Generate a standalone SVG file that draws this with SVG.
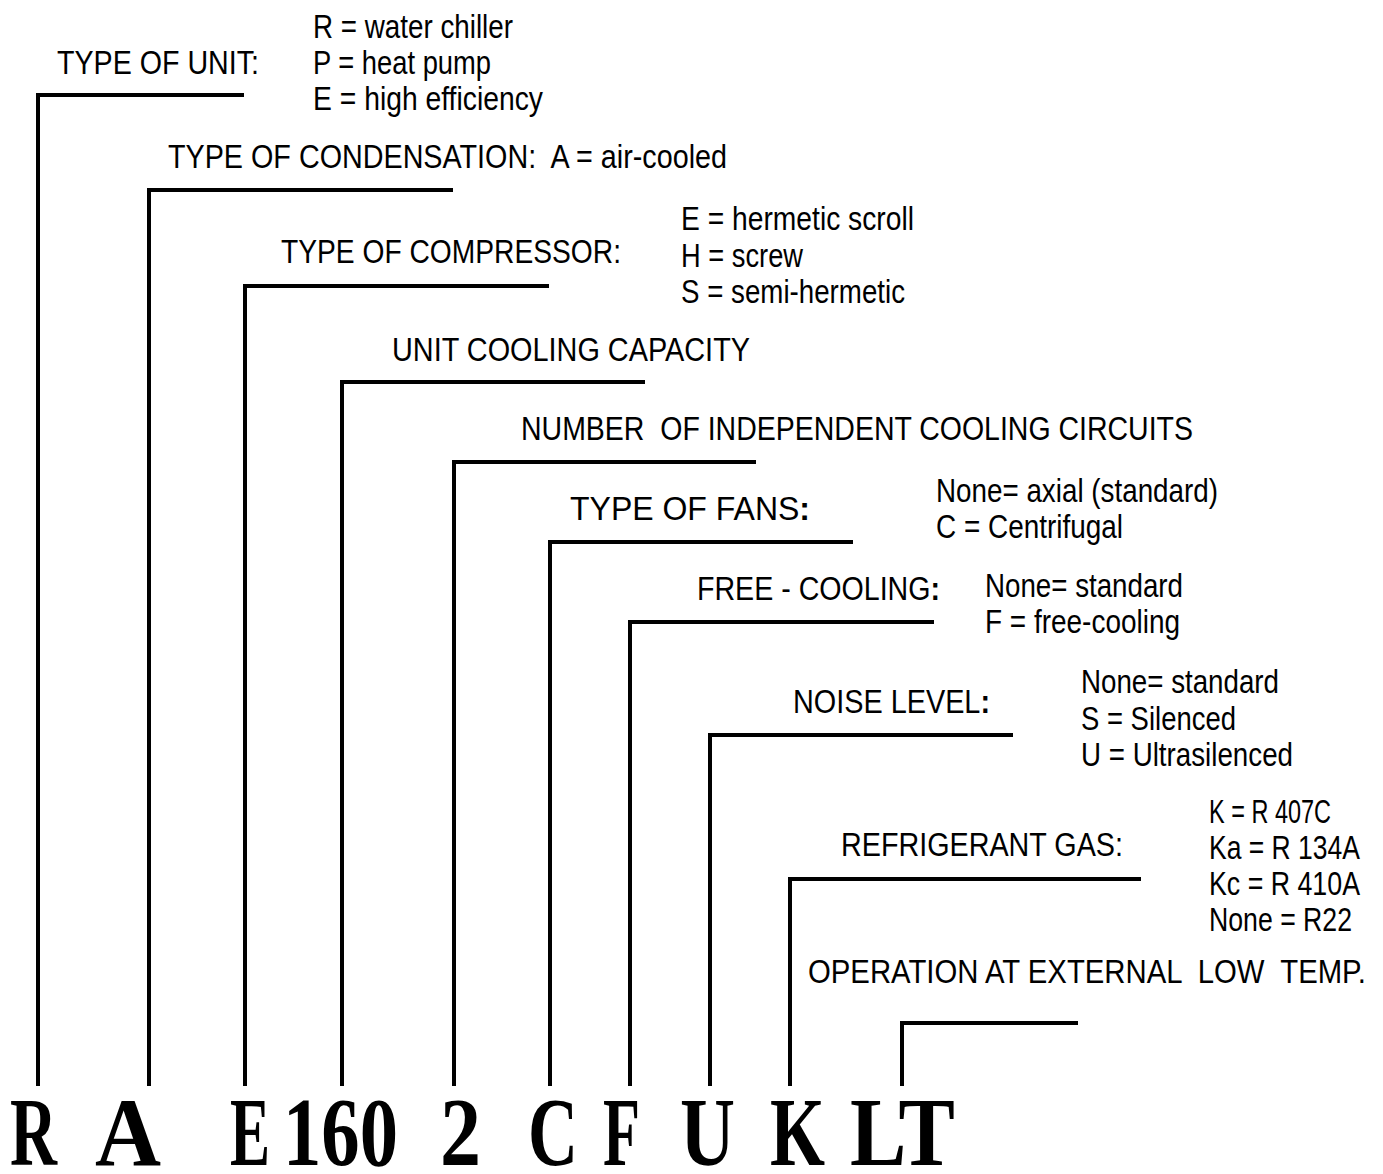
<svg xmlns="http://www.w3.org/2000/svg" width="1383" height="1174" viewBox="0 0 1383 1174">
<style>
.t{font-family:"Liberation Sans Narrow","Liberation Sans",Arial,sans-serif;font-size:34px;fill:#000;white-space:pre}
.b{font-weight:bold}
.code{font-family:"Liberation Serif","Times New Roman",serif;font-weight:bold;font-size:98px;fill:#000}
.ln{fill:none;stroke:#000;stroke-width:4;stroke-linejoin:miter;stroke-linecap:butt}
</style>
<rect width="1383" height="1174" fill="#fff"/>
<g id="connectors">
<path class="ln" d="M38,1086 V95 H244"/>
<path class="ln" d="M149,1086 V190 H453"/>
<path class="ln" d="M245,1086 V286 H549"/>
<path class="ln" d="M342,1086 V382 H645"/>
<path class="ln" d="M454,1086 V462 H756"/>
<path class="ln" d="M550,1086 V542 H853"/>
<path class="ln" d="M630,1086 V622 H934"/>
<path class="ln" d="M710,1086 V735 H1013"/>
<path class="ln" d="M790,1086 V879 H1141"/>
<path class="ln" d="M902,1086 V1023 H1078"/>
</g>
<g id="unit">
<text class="t" x="57" y="74" textLength="202" lengthAdjust="spacingAndGlyphs">TYPE OF UNIT:</text>
<text class="t" x="313" y="38" textLength="200" lengthAdjust="spacingAndGlyphs">R = water chiller</text>
<text class="t" x="313" y="74" textLength="178" lengthAdjust="spacingAndGlyphs">P = heat pump</text>
<text class="t" x="313" y="110" textLength="230" lengthAdjust="spacingAndGlyphs">E = high efficiency</text>
</g>
<g id="condensation">
<text class="t" x="168" y="168" textLength="559" lengthAdjust="spacingAndGlyphs" xml:space="preserve">TYPE OF CONDENSATION:  A = air-cooled</text>
</g>
<g id="compressor">
<text class="t" x="281" y="263" textLength="340" lengthAdjust="spacingAndGlyphs">TYPE OF COMPRESSOR:</text>
<text class="t" x="681" y="230" textLength="233" lengthAdjust="spacingAndGlyphs">E = hermetic scroll</text>
<text class="t" x="681" y="267" textLength="122" lengthAdjust="spacingAndGlyphs">H = screw</text>
<text class="t" x="681" y="303" textLength="224" lengthAdjust="spacingAndGlyphs">S = semi-hermetic</text>
</g>
<g id="capacity">
<text class="t" x="392" y="361" textLength="358" lengthAdjust="spacingAndGlyphs">UNIT COOLING CAPACITY</text>
</g>
<g id="circuits">
<text class="t" x="521" y="440" textLength="672" lengthAdjust="spacingAndGlyphs" xml:space="preserve">NUMBER  OF INDEPENDENT COOLING CIRCUITS</text>
</g>
<g id="fans">
<text class="t" x="570" y="520" textLength="240" lengthAdjust="spacingAndGlyphs">TYPE OF FANS<tspan class="b">:</tspan></text>
<text class="t" x="936" y="502" textLength="282" lengthAdjust="spacingAndGlyphs">None= axial (standard)</text>
<text class="t" x="936" y="538" textLength="187" lengthAdjust="spacingAndGlyphs">C = Centrifugal</text>
</g>
<g id="freecooling">
<text class="t" x="697" y="600" textLength="243" lengthAdjust="spacingAndGlyphs">FREE - COOLING<tspan class="b">:</tspan></text>
<text class="t" x="985" y="597" textLength="198" lengthAdjust="spacingAndGlyphs">None= standard</text>
<text class="t" x="985" y="633" textLength="195" lengthAdjust="spacingAndGlyphs">F = free-cooling</text>
</g>
<g id="noise">
<text class="t" x="793" y="713" textLength="197" lengthAdjust="spacingAndGlyphs">NOISE LEVEL<tspan class="b">:</tspan></text>
<text class="t" x="1081" y="693" textLength="198" lengthAdjust="spacingAndGlyphs">None= standard</text>
<text class="t" x="1081" y="730" textLength="155" lengthAdjust="spacingAndGlyphs">S = Silenced</text>
<text class="t" x="1081" y="766" textLength="212" lengthAdjust="spacingAndGlyphs">U = Ultrasilenced</text>
</g>
<g id="refrigerant">
<text class="t" x="841" y="856" textLength="282" lengthAdjust="spacingAndGlyphs">REFRIGERANT GAS:</text>
<text class="t" x="1209" y="823" textLength="122" lengthAdjust="spacingAndGlyphs">K = R 407C</text>
<text class="t" x="1209" y="859" textLength="151" lengthAdjust="spacingAndGlyphs">Ka = R 134A</text>
<text class="t" x="1209" y="895" textLength="151" lengthAdjust="spacingAndGlyphs">Kc = R 410A</text>
<text class="t" x="1209" y="931" textLength="143" lengthAdjust="spacingAndGlyphs">None = R22</text>
</g>
<g id="lowtemp">
<text class="t" x="808" y="983" textLength="558" lengthAdjust="spacingAndGlyphs" xml:space="preserve">OPERATION AT EXTERNAL  LOW  TEMP.</text>
</g>
<g id="code">
<text class="code" x="10" y="1165" textLength="47" lengthAdjust="spacingAndGlyphs">R</text>
<text class="code" x="95" y="1165" textLength="66" lengthAdjust="spacingAndGlyphs">A</text>
<text class="code" x="230" y="1165" textLength="40" lengthAdjust="spacingAndGlyphs">E</text>
<text class="code" x="283" y="1165" textLength="115" lengthAdjust="spacingAndGlyphs">160</text>
<text class="code" x="440" y="1165" textLength="41" lengthAdjust="spacingAndGlyphs">2</text>
<text class="code" x="528" y="1165" textLength="50" lengthAdjust="spacingAndGlyphs">C</text>
<text class="code" x="603" y="1165" textLength="37" lengthAdjust="spacingAndGlyphs">F</text>
<text class="code" x="680" y="1165" textLength="55" lengthAdjust="spacingAndGlyphs">U</text>
<text class="code" x="770" y="1165" textLength="55" lengthAdjust="spacingAndGlyphs">K</text>
<text class="code" x="850" y="1165" textLength="105" lengthAdjust="spacingAndGlyphs">LT</text>
</g>
</svg>
